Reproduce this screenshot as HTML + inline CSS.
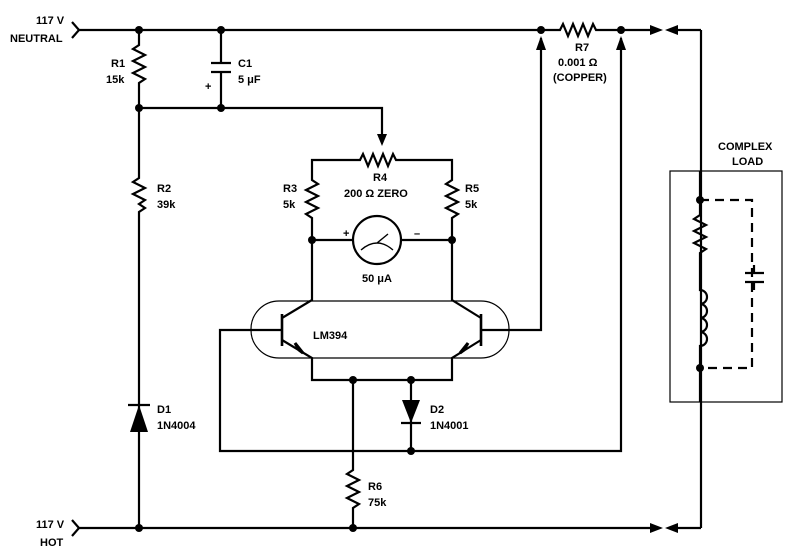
<!DOCTYPE html>
<html><head><style>body{margin:0;background:#fff}svg{display:block}text{font-family:"Liberation Sans",sans-serif;font-weight:bold;font-size:11px;fill:#000}</style></head><body>
<svg width="800" height="560" viewBox="0 0 800 560" xmlns="http://www.w3.org/2000/svg">
<g stroke="#000" stroke-width="2.2" fill="none">
<path d="M72 22 L79 30 L72 38"/>
<path d="M79 30 H541 M541 30 H560 l3 -6 l5 12 l5 -12 l5 12 l5 -12 l5 12 l5 -12 l3 6 H621 H655"/>
<path d="M701 30 H672 M701 30 V528 M672 528 H701"/>
<path d="M72 520 L79 528 L72 536 M79 528 H655"/>
<path d="M139 30 V45 l-6 4 l12 6 l-12 6 l12 6 l-12 6 l12 6 l-6 4 V178 l-6 4 l12 6 l-12 6 l12 6 l-6 4 l6 4 l-6 4 V528"/>
<path d="M221 30 V63 M211 63 H231 M211 72 H231 M221 72 V108 M139 108 H382 V138"/>
<path d="M312 240 V218 l-6 -4 l12 -6 l-12 -6 l12 -6 l-12 -6 l12 -6 l-6 -4 V160 H360 l3 -6 l5 12 l5 -12 l5 12 l5 -12 l5 12 l5 -12 l3 6 H452 V180 l-6 4 l12 6 l-12 6 l12 6 l-12 6 l12 6 l-6 4 V240"/>
<path d="M312 240 H353 M401 240 H452"/>
<path d="M312 240 V300 L282 318 M282 340 L312 358 V380 H452 V358 L481 340 M481 318 L452 300 V240"/>
<path d="M282 314 V346 M481 314 V346" stroke-width="2.6"/>
<path d="M282 330 H220 V451 H621 V38 M481 330 H541 V38"/>
<path d="M353 380 V470 l-6 4 l12 6 l-12 6 l12 6 l-12 6 l12 6 l-6 4 V528"/>
<path d="M411 380 V451 M401 423 H421 M128 405 H150"/>
<path d="M700 171 V215 l-6 4 l12 6 l-12 6 l12 6 l-12 6 l12 6 l-6 4 V290 a7 7 0 0 1 0 14 a7 7 0 0 1 0 14 a7 7 0 0 1 0 14 a7 7 0 0 1 0 14 V402"/>
<path d="M745 273 H764 M745 282 H764 M754 273 V265 M754 282 V290"/>
</g>
<path d="M700 200 H752 V368 H700" stroke="#000" stroke-width="2.2" fill="none" stroke-dasharray="9 6"/>
<rect x="670" y="171" width="112" height="231" stroke="#000" stroke-width="1.2" fill="none"/>
<rect x="251" y="301" width="258" height="57" rx="28" stroke="#000" stroke-width="1.2" fill="none"/>
<circle cx="377" cy="240" r="24" stroke="#000" stroke-width="2.2" fill="#fff"/>
<path d="M361 250 Q377 236 393 250 M377 243 L388 234" stroke="#000" stroke-width="1.4" fill="none"/>
<g fill="#000">
<circle cx="139" cy="30" r="4"/><circle cx="221" cy="30" r="4"/><circle cx="139" cy="108" r="4"/><circle cx="221" cy="108" r="4"/>
<circle cx="541" cy="30" r="4"/><circle cx="621" cy="30" r="4"/><circle cx="312" cy="240" r="4"/><circle cx="452" cy="240" r="4"/>
<circle cx="353" cy="380" r="4"/><circle cx="411" cy="380" r="4"/><circle cx="411" cy="451" r="4"/>
<circle cx="139" cy="528" r="4"/><circle cx="353" cy="528" r="4"/><circle cx="700" cy="200" r="4"/><circle cx="700" cy="368" r="4"/>
<path d="M382 146 L377 134 H387 Z"/>
<path d="M541 36 L536 50 H546 Z"/><path d="M621 36 L616 50 H626 Z"/>
<path d="M663 30 L650 25 V35 Z"/><path d="M665 30 L678 25 V35 Z"/>
<path d="M663 528 L650 523 V533 Z"/><path d="M665 528 L678 523 V533 Z"/>
<path d="M139 405 L130 432 H148 Z"/><path d="M411 423 L402 400 H420 Z"/>
<path d="M303 353 L295 343 L299 350 Z" stroke="#000" stroke-width="3"/>
<path d="M460 353 L468 343 L464 350 Z" stroke="#000" stroke-width="3"/>
</g>
<text x="36" y="24">117 V</text><text x="10" y="42">NEUTRAL</text>
<text x="36" y="528">117 V</text><text x="40" y="546">HOT</text>
<text x="111" y="67">R1</text><text x="106" y="83">15k</text>
<text x="238" y="67">C1</text><text x="238" y="83">5 μF</text><text x="205" y="90">+</text>
<text x="157" y="192">R2</text><text x="157" y="208">39k</text>
<text x="283" y="192">R3</text><text x="283" y="208">5k</text>
<text x="465" y="192">R5</text><text x="465" y="208">5k</text>
<text x="373" y="181">R4</text><text x="344" y="197">200 Ω ZERO</text>
<text x="343" y="237">+</text><text x="414" y="237">–</text>
<text x="362" y="282">50 μA</text>
<text x="313" y="339">LM394</text>
<text x="575" y="51">R7</text><text x="558" y="66">0.001 Ω</text><text x="553" y="81">(COPPER)</text>
<text x="718" y="150">COMPLEX</text><text x="732" y="165">LOAD</text>
<text x="157" y="413">D1</text><text x="157" y="429">1N4004</text>
<text x="430" y="413">D2</text><text x="430" y="429">1N4001</text>
<text x="368" y="490">R6</text><text x="368" y="506">75k</text>
</svg>
</body></html>
